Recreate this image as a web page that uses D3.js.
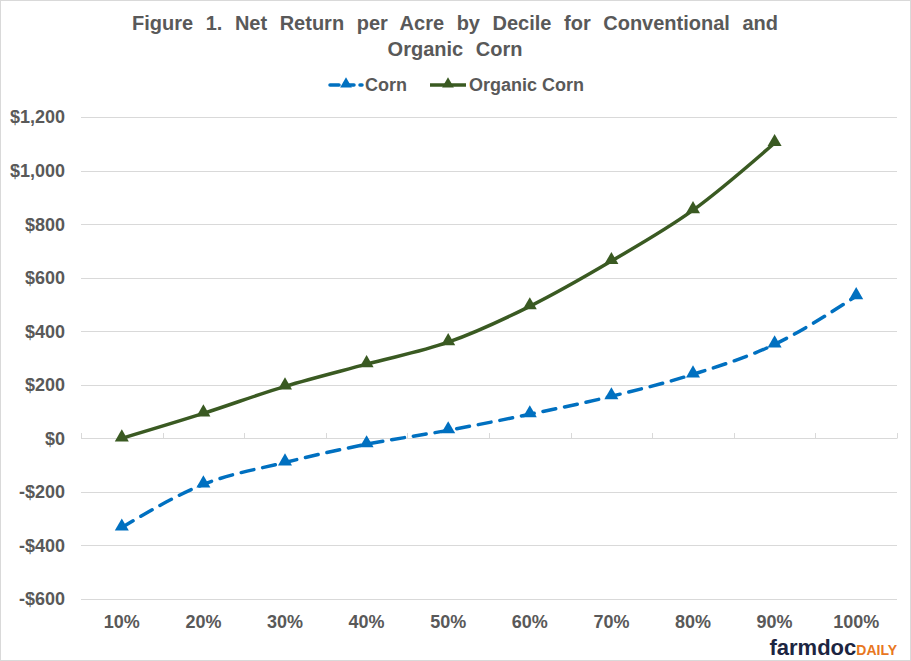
<!DOCTYPE html>
<html>
<meta name="viewport" content="width=device-width,initial-scale=1" />
<script src="https://d3js.org/d3.v7.min.js"></script>

<body>
    <style>
        body,
        html {
            margin: 0;
            padding: 0;
            overflow: hidden;
            background: #fff;
        }

        text {
            font-family: "Liberation Sans", Arial, sans-serif;
        }
    </style>

    <svg id="chart"></svg>

    <script>
        var deciles = ["10%", "20%", "30%", "40%", "50%", "60%", "70%", "80%", "90%", "100%"];
        var cornValues = [-333, -172, -90, -22, 30, 90, 157, 239, 351, 531];
        var organicValues = [0, 93, 194, 277, 359, 493, 662, 852, 1103, null];
        var yTicks = [-600, -400, -200, 0, 200, 400, 600, 800, 1000, 1200];

        var width = 911, height = 661;
        var margins = { top: 117, left: 81, bottom: 62, right: 14 };

        var svg = d3.select("#chart")
            .attr("width", width)
            .attr("height", height);

        // light border round the chart area
        svg.append("rect")
            .attr("x", 0.5).attr("y", 0.5)
            .attr("width", width - 1).attr("height", height - 1)
            .attr("fill", "#fff")
            .attr("stroke", "#d9d9d9");

        var x = d3.scaleBand()
            .domain(deciles)
            .range([margins.left, width - margins.right]);

        var y = d3.scaleLinear()
            .domain([-600, 1200])
            .range([height - margins.bottom, margins.top]);

        // gridlines
        svg.append("g")
            .selectAll("line")
            .data(yTicks)
            .enter().append("line")
            .attr("x1", margins.left)
            .attr("x2", width - margins.right)
            .attr("y1", function (d) { return Math.round(y(d)) + 0.5; })
            .attr("y2", function (d) { return Math.round(y(d)) + 0.5; })
            .attr("stroke", "#d9d9d9")
            .attr("stroke-width", 1);

        // tick marks on the zero line between categories
        var bounds = deciles.map(function (d) { return x(d); }).concat([x.range()[1]]);
        svg.append("g")
            .selectAll("line")
            .data(bounds)
            .enter().append("line")
            .attr("x1", function (d) { return Math.round(d) + 0.5; })
            .attr("x2", function (d) { return Math.round(d) + 0.5; })
            .attr("y1", Math.round(y(0)) - 5)
            .attr("y2", Math.round(y(0)) + 0.5)
            .attr("stroke", "#d9d9d9");

        // y axis labels
        var fmt = function (d) {
            return (d < 0 ? "-$" : "$") + d3.format(",")(Math.abs(d));
        };
        svg.append("g")
            .selectAll("text")
            .data(yTicks)
            .enter().append("text")
            .attr("x", 65)
            .attr("y", function (d) { return y(d); })
            .attr("dy", "0.36em")
            .attr("text-anchor", "end")
            .attr("font-size", 18)
            .attr("font-weight", "bold")
            .attr("fill", "#595959")
            .text(fmt);

        // x axis labels
        svg.append("g")
            .selectAll("text")
            .data(deciles)
            .enter().append("text")
            .attr("x", function (d) { return x(d) + x.bandwidth() / 2; })
            .attr("y", 628)
            .attr("text-anchor", "middle")
            .attr("font-size", 18)
            .attr("font-weight", "bold")
            .attr("fill", "#595959")
            .text(function (d) { return d; });

        var cx = function (i) { return x(deciles[i]) + x.bandwidth() / 2; };
        var tri = d3.symbol().type(d3.symbolTriangle).size(85);

        var series = [
            { name: "Corn", values: cornValues, color: "#0070c0", dash: "13,9" },
            { name: "Organic Corn", values: organicValues, color: "#3a5a22", dash: null }
        ];

        series.forEach(function (s) {
            var pts = s.values.map(function (v, i) { return { i: i, v: v }; })
                .filter(function (p) { return p.v !== null; });

            var line = d3.line()
                .x(function (p) { return cx(p.i); })
                .y(function (p) { return y(p.v); })
                .curve(d3.curveMonotoneX);

            svg.append("path")
                .datum(pts)
                .attr("d", line)
                .attr("fill", "none")
                .attr("stroke", s.color)
                .attr("stroke-width", 3.5)
                .attr("stroke-linecap", s.dash ? "round" : "butt")
                .attr("stroke-dasharray", s.dash);

            svg.append("g")
                .selectAll("path")
                .data(pts)
                .enter().append("path")
                .attr("d", tri)
                .attr("transform", function (p) {
                    return "translate(" + cx(p.i) + "," + (y(p.v) - 1) + ")";
                })
                .attr("fill", s.color);
        });

        // title
        var title = svg.append("text")
            .attr("text-anchor", "middle")
            .attr("font-size", 20)
            .attr("font-weight", "bold")
            .attr("fill", "#595959")
            .attr("word-spacing", 7);
        title.append("tspan").attr("x", 455).attr("y", 30)
            .text("Figure 1. Net Return per Acre by Decile for Conventional and");
        title.append("tspan").attr("x", 455).attr("y", 56)
            .text("Organic Corn");

        // legend
        var legend = [
            { name: "Corn", x: 328, w: 36, color: "#0070c0", dash: "9,6" },
            { name: "Organic Corn", x: 428, w: 40, color: "#3a5a22", dash: null }
        ];
        var lg = svg.append("g").selectAll("g").data(legend).enter().append("g")
            .attr("transform", function (d) { return "translate(" + d.x + ",85)"; });
        lg.append("line")
            .attr("x1", 2).attr("x2", function (d) { return d.w - 2; })
            .attr("stroke", function (d) { return d.color; })
            .attr("stroke-width", 3.5)
            .attr("stroke-linecap", function (d) { return d.dash ? "round" : "butt"; })
            .attr("stroke-dasharray", function (d) { return d.dash; });
        lg.append("path")
            .attr("d", d3.symbol().type(d3.symbolTriangle).size(60))
            .attr("transform", function (d) { return "translate(" + (d.w / 2) + ",-1)"; })
            .attr("fill", function (d) { return d.color; });
        lg.append("text")
            .attr("x", function (d) { return d.w + 1; })
            .attr("dy", "0.36em")
            .attr("font-size", 18)
            .attr("font-weight", "bold")
            .attr("fill", "#595959")
            .text(function (d) { return d.name; });

        // logo
        var logo = svg.append("text")
            .attr("x", 897)
            .attr("y", 655)
            .attr("text-anchor", "end")
            .attr("font-weight", "bold");
        logo.append("tspan")
            .attr("font-size", 22)
            .attr("fill", "#1c2541")
            .text("farmdoc");
        logo.append("tspan")
            .attr("font-size", 14)
            .attr("fill", "#e87722")
            .text("DAILY");
    </script>
</body>

</html>
